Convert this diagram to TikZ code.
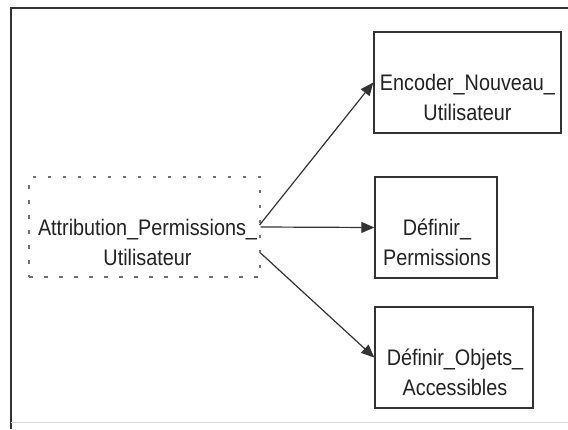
\documentclass[tikz,border=0pt]{standalone}
\usepackage{fontspec}
\setmainfont{Liberation Sans}[FakeStretch=0.88]
\usetikzlibrary{arrows.meta,calc}
\definecolor{ink}{HTML}{222222}
\definecolor{edge}{HTML}{333333}
\begin{document}
\begin{tikzpicture}[x=1pt,y=-1pt,
  box/.style={draw=edge, line width=1.4pt, inner sep=0pt},
  dotbox/.style={draw=edge!70, line width=1.1pt, dash pattern=on 3.5pt off 11.5pt, inner sep=0pt},
  lbl/.style={text=ink, align=center, inner sep=0pt, font=\fontsize{22.5}{30}\selectfont},
  conn/.style={draw=edge, line width=1.2pt, -{Triangle[length=13pt,width=11pt]}}]
\useasboundingbox (0,0) rectangle (568,429);
\fill[white] (0,0) rectangle (568,429);
% outer frame
\draw[edge, line width=2.4pt] (11,429) -- (11,8) -- (570,8);
\draw[black!15, line width=1pt] (11,422) -- (570,422);
% boxes
\node[dotbox, minimum width=231pt, minimum height=100pt] (attr) at (144.5,227) {};
\node[box, minimum width=187pt, minimum height=101pt] (enc) at (467.5,82.5) {};
\node[box, minimum width=122pt, minimum height=101pt] (perm) at (436,227.5) {};
\node[box, minimum width=158pt, minimum height=101pt] (obj) at (454,357.5) {};
% labels
\node[lbl] (attrT) at ($(attr.center)+(3,15)$) {Attribution\_Permissions\_\\Utilisateur};
\node[lbl] (encT) at ($(enc.center)+(0,15)$) {Encoder\_Nouveau\_\\Utilisateur};
\node[lbl] (permT) at ($(perm.center)+(1,15)$) {Définir\_\\Permissions};
\node[lbl] (objT) at ($(obj.center)+(1,15)$) {Définir\_Objets\_\\Accessibles};
% connectors
\coordinate (s1) at ($(attr.east)+(-1,-2)$);
\coordinate (s3) at ($(attr.east)+(0,26)$);
\draw[conn] (s1) -- (enc.west);
\draw[conn] (attr.east) -- (perm.west);
\draw[conn] (s3) -- (obj.west);
\end{tikzpicture}
\end{document}
